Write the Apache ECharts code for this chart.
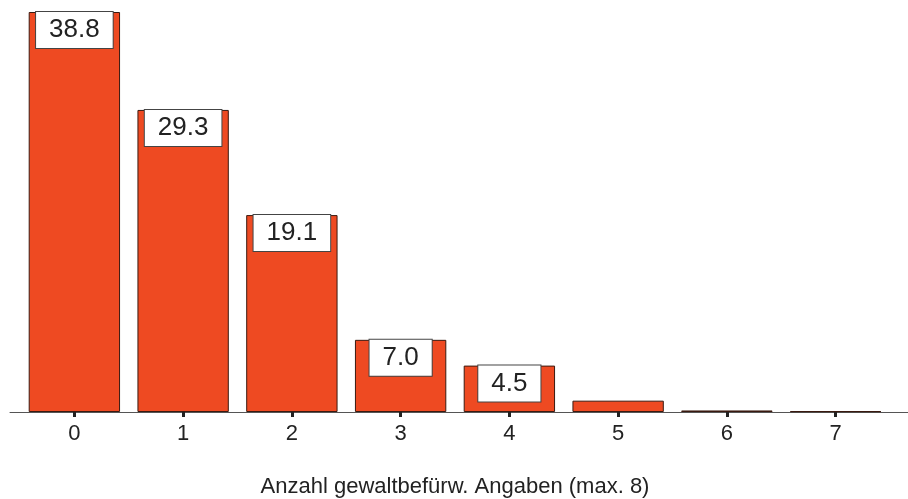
<!DOCTYPE html>
<html><head><meta charset="utf-8">
<script src="https://cdn.jsdelivr.net/npm/echarts@6/dist/echarts.min.js"></script>
<style>html,body{margin:0;padding:0;background:#fff}#c{width:908px;height:499px}</style>
</head><body><div id="c"></div>
<script>
var categories = ['0','1','2','3','4','5','6','7'];
var values = [38.8, 29.3, 19.1, 7.0, 4.5, 1.1, 0.15, 0.08];
var labelled = [true, true, true, true, true, false, false, false];
var axisTitle = 'Anzahl gewaltbefürw. Angaben (max. 8)';

var chart = echarts.init(document.getElementById('c'));
var font = 'Liberation Sans, Arial, sans-serif';
chart.setOption({
  animation: false,
  backgroundColor: '#fff',
  grid: [
    {left: 20, right: 18, top: 12, bottom: 87, containLabel: false, outerBoundsMode: 'none'},
    {left: 10, right: 0, top: 12, bottom: 87, containLabel: false, outerBoundsMode: 'none'}
  ],
  xAxis: [{
    type: 'category', data: categories, gridIndex: 0,
    axisLine: {show: false},
    axisTick: {show: true, alignWithLabel: true, length: 5, lineStyle: {color: '#222', width: 3}},
    axisLabel: {fontSize: 22, color: '#222', fontFamily: font, margin: 11},
    name: axisTitle, nameLocation: 'middle', nameGap: 64,
    nameTextStyle: {fontSize: 22, color: '#222', fontFamily: font}
  }, {
    type: 'value', gridIndex: 1, min: 0, max: 1,
    axisLine: {show: true, lineStyle: {color: '#555', width: 1}},
    axisTick: {show: false}, axisLabel: {show: false}, splitLine: {show: false}
  }],
  yAxis: [{
    type: 'value', gridIndex: 0, min: 0, max: 38.8, show: false
  }, {
    type: 'value', gridIndex: 1, min: 0, max: 1, show: false
  }],
  series: [{
    type: 'bar', xAxisIndex: 0, yAxisIndex: 0,
    barCategoryGap: '16%',
    data: values.map(function (v, i) {
      return {
        value: v,
        label: {show: labelled[i]}
      };
    }),
    itemStyle: {color: '#EE4A22', borderColor: '#3a1a10', borderWidth: 1},
    label: {
      position: 'insideTop', distance: 0,
      formatter: function (p) { return p.value.toFixed(1); },
      fontSize: 26, color: '#222', fontFamily: font,
      backgroundColor: '#fff', borderColor: '#444', borderWidth: 1,
      padding: [5, 13, 5, 13], lineHeight: 26
    }
  }]
});
</script></body></html>
